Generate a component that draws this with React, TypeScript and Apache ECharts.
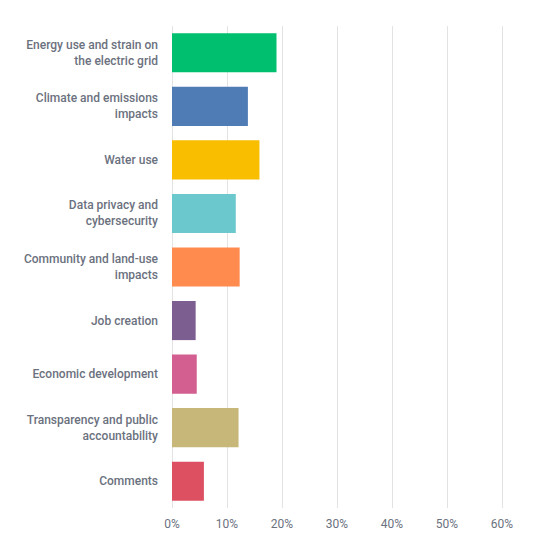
import React, { useEffect, useRef } from "react";
import * as echarts from "echarts";

const categories = [
  "Energy use and strain on\nthe electric grid",
  "Climate and emissions\nimpacts",
  "Water use",
  "Data privacy and\ncybersecurity",
  "Community and land-use\nimpacts",
  "Job creation",
  "Economic development",
  "Transparency and public\naccountability",
  "Comments",
];

const shares = [19.0, 13.8, 15.9, 11.6, 12.3, 4.3, 4.5, 12.1, 5.8];

const barColors = [
  "#00BF6F",
  "#507CB6",
  "#F9BE00",
  "#6BC8CD",
  "#FF8B4F",
  "#7D5E90",
  "#D25F90",
  "#C7B879",
  "#DC5061",
];

const xTicks = [0, 10, 20, 30, 40, 50, 60];

export default function App() {
  const ref = useRef<HTMLDivElement>(null);

  useEffect(() => {
    if (!ref.current) return;
    const chart = echarts.init(ref.current, undefined, { renderer: "svg" });
    const textColor = "#6B717E";
    chart.setOption({
      animation: false,
      backgroundColor: "#ffffff",
      grid: { left: 172, right: 34, top: 26, bottom: 31, containLabel: false },
      xAxis: {
        type: "value",
        min: xTicks[0],
        max: xTicks[xTicks.length - 1],
        interval: 10,
        axisLine: { show: false },
        axisTick: { show: false },
        splitLine: { show: true, lineStyle: { color: "#E3E3E3", width: 1 } },
        axisLabel: {
          color: textColor,
          fontFamily: "Roboto",
          fontSize: 12,
          margin: 10,
          formatter: (v: number) => `${v}%`,
        },
      },
      yAxis: {
        type: "category",
        inverse: true,
        data: categories,
        axisLine: { show: false },
        axisTick: { show: false },
        splitLine: { show: false },
        axisLabel: {
          color: textColor,
          fontFamily: "Roboto",
          fontWeight: 500,
          fontSize: 12,
          lineHeight: 16,
          margin: 14,
          align: "right",
        },
      },
      series: [
        {
          type: "bar",
          data: shares.map((v, i) => ({ value: v, itemStyle: { color: barColors[i] } })),
          barCategoryGap: "27%",
          silent: true,
        },
      ],
    });
    return () => chart.dispose();
  }, []);

  return (
    <div
      ref={ref}
      style={{ position: "absolute", left: 0, top: 0, width: 536, height: 539 }}
    />
  );
}
